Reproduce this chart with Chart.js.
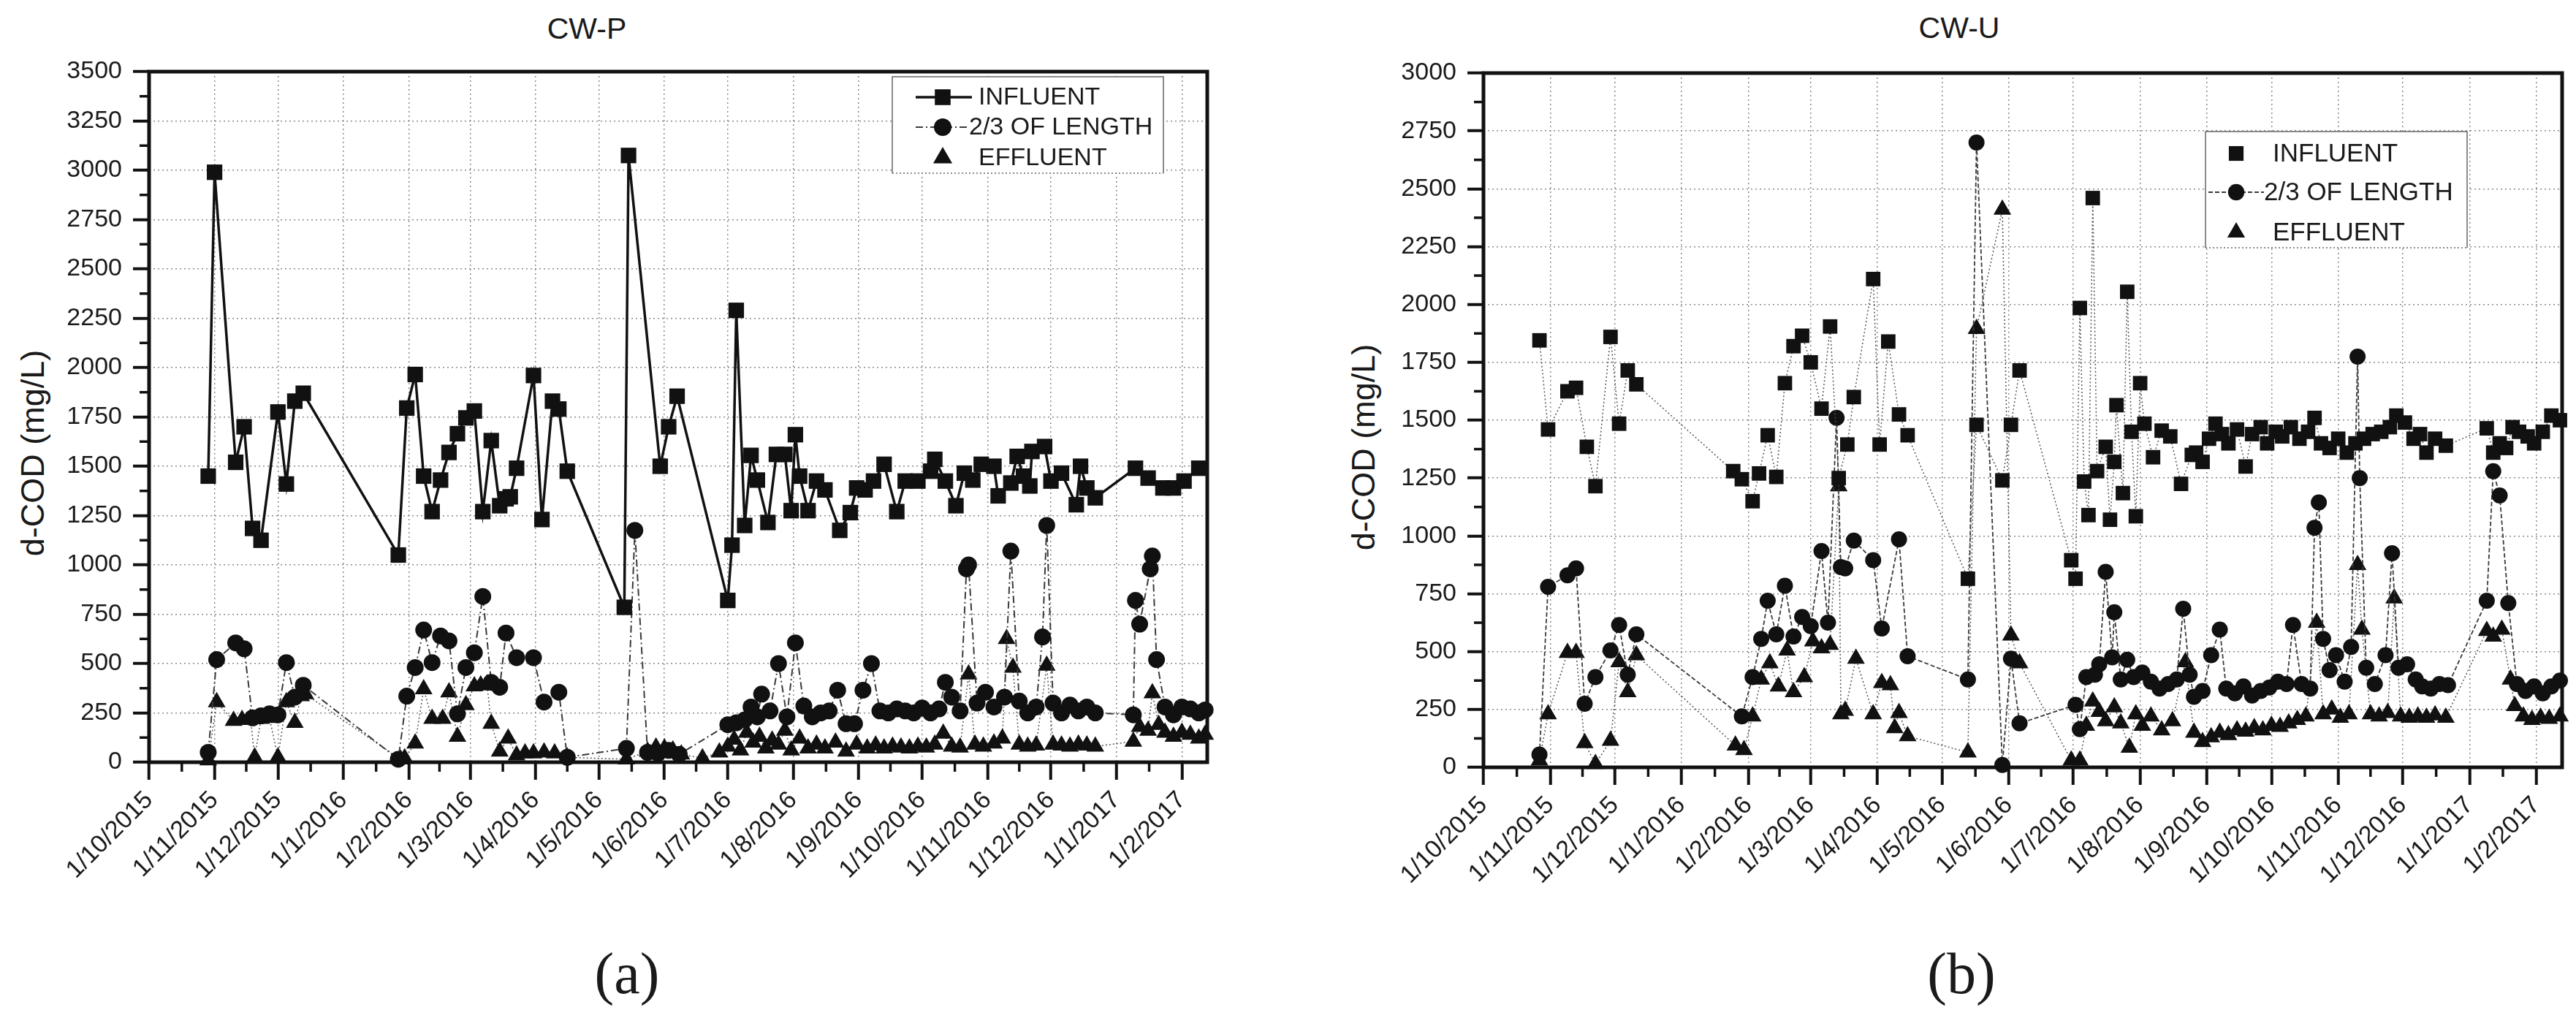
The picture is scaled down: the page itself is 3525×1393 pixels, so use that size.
<!DOCTYPE html>
<html>
<head>
<meta charset="utf-8">
<title>d-COD CW-P / CW-U</title>
<script src="https://cdn.jsdelivr.net/npm/chart.js@4.4.1/dist/chart.umd.min.js"></script>
<style>
body { margin: 0; background: #fff; width: 3525px; height: 1393px; overflow: hidden; position: relative; font-family: 'Liberation Sans', Arial, sans-serif; color: #1a1a1a; }
canvas { position: absolute; top: 0; }
#chartP { left: 0; }
#chartU { left: 1760px; }
.titulo { position: absolute; font-size: 41px; transform: translate(-50%, -50%); white-space: nowrap; }
.ejeY { position: absolute; font-size: 45px; transform: translate(-50%, -50%) rotate(-90deg); white-space: nowrap; }
.rotulo { position: absolute; font-family: 'Liberation Serif', serif; font-size: 80px; transform: translate(-50%, -50%); }
</style>
</head>
<body>
<div class="titulo" style="left:803px; top:39px;">CW-P</div>
<div class="titulo" style="left:2681px; top:38px;">CW-U</div>
<div class="ejeY" style="left:45px; top:620px;">d-COD (mg/L)</div>
<div class="ejeY" style="left:1866px; top:612px;">d-COD (mg/L)</div>
<div class="rotulo" style="left:858px; top:1332px;">(a)</div>
<div class="rotulo" style="left:2684px; top:1332px;">(b)</div>
<canvas id="chartP" width="1760" height="1393"></canvas>
<canvas id="chartU" width="1765" height="1393"></canvas>
<script>
// eje x: dias desde 1/10/2015
const fechaInicio = '1/10/2015';
const etiquetasMes = ['1/10/2015', '1/11/2015', '1/12/2015', '1/1/2016', '1/2/2016', '1/3/2016', '1/4/2016',
    '1/5/2016', '1/6/2016', '1/7/2016', '1/8/2016', '1/9/2016', '1/10/2016', '1/11/2016', '1/12/2016',
    '1/1/2017', '1/2/2017'];
const ticksYP = [0, 250, 500, 750, 1000, 1250, 1500, 1750, 2000, 2250, 2500, 2750, 3000, 3250, 3500];
const ticksYU = [0, 250, 500, 750, 1000, 1250, 1500, 1750, 2000, 2250, 2500, 2750, 3000];
const nombresSeries = ['INFLUENT', '2/3 OF LENGTH', 'EFFLUENT'];

// CW-P  [dia, mg/L]
const cwpInfluent = [[28,1450],[31,2990],[41,1520],[45,1700],[49,1185],[53,1125],[61,1775],[65,1410],[69,1830],[73,1870],
    [118,1050],[122,1795],[126,1965],[130,1450],[134,1270],[138,1430],[142,1570],[146,1665],[150,1745],[154,1780],
    [158,1270],[162,1630],[166,1300],[169,1335],[171,1345],[174,1490],[182,1960],[186,1230],[191,1830],[194,1790],
    [198,1475],[225,785],[227,3075],[242,1500],[246,1700],[250,1855],[274,820],[276,1100],[278,2290],[282,1200],
    [285,1555],[288,1430],[293,1215],[297,1560],[301,1560],[304,1275],[306,1660],[308,1450],[312,1275],[316,1425],
    [320,1380],[327,1175],[332,1265],[335,1390],[339,1380],[343,1425],[348,1510],[354,1270],[358,1425],[364,1425],
    [370,1475],[372,1535],[377,1425],[382,1300],[386,1465],[390,1430],[394,1510],[400,1500],[402,1350],[408,1415],
    [411,1550],[414,1450],[417,1400],[418,1575],[424,1600],[427,1425],[432,1465],[439,1305],[441,1500],[444,1390],
    [448,1340],[467,1490],[473,1440],[480,1390],[485,1390],[490,1425],[497,1490]];
const cwpMitad = [[28,50],[32,520],[41,605],[45,575],[49,225],[53,235],[57,245],[61,240],[65,505],[69,330],[73,390],
    [118,15],[122,335],[126,480],[130,670],[134,505],[138,640],[142,615],[146,245],[150,480],[154,555],[158,840],
    [162,405],[166,380],[169,655],[174,530],[182,530],[187,305],[194,355],[198,25],[226,70],[230,1175],[236,50],
    [241,45],[246,60],[251,40],[274,190],[278,200],[282,215],[285,280],[288,230],[290,345],[294,260],[298,500],
    [302,230],[306,605],[310,285],[314,230],[318,250],[322,260],[326,365],[330,195],[334,195],[338,365],[342,500],
    [346,260],[350,250],[354,270],[358,260],[362,250],[366,275],[370,250],[374,270],[377,405],[380,330],[384,260],
    [387,980],[388,1000],[392,300],[396,355],[400,280],[405,330],[408,1070],[412,310],[416,250],[420,280],[423,635],
    [425,1200],[428,300],[432,250],[436,290],[440,260],[444,280],[448,250],[466,240],[467,820],[469,700],[474,980],
    [475,1045],[477,520],[481,280],[485,240],[489,280],[493,270],[497,250],[500,265]];
const cwpEffluent = [[28,10],[32,305],[40,210],[44,215],[48,220],[50,25],[53,220],[57,225],[61,25],[65,305],[69,200],
    [72,335],[74,345],[119,15],[121,20],[126,95],[130,370],[134,220],[139,220],[142,355],[146,130],[150,290],[154,385],
    [157,390],[160,395],[162,195],[166,55],[170,120],[174,35],[178,45],[182,45],[187,50],[192,45],[198,25],[226,15],
    [236,55],[240,75],[244,70],[248,60],[252,40],[262,20],[270,50],[274,80],[277,115],[280,60],[283,150],[286,100],
    [289,130],[292,70],[295,110],[298,90],[301,160],[304,60],[308,120],[312,70],[316,90],[320,70],[325,100],[330,55],
    [335,90],[340,70],[344,85],[348,70],[352,80],[356,75],[360,70],[364,80],[368,75],[372,90],[376,145],[380,80],
    [384,75],[388,445],[391,90],[395,80],[400,95],[404,120],[406,625],[409,480],[412,90],[416,80],[420,85],[425,490],
    [428,90],[432,85],[436,80],[440,90],[444,85],[448,80],[466,105],[469,180],[473,160],[475,350],[478,190],[481,150],
    [485,130],[489,150],[493,140],[497,120],[500,140]];

// CW-U  [dia, mg/L]
const cwuInfluent = [[26,1845],[30,1460],[39,1625],[43,1640],[48,1385],[52,1215],[59,1860],[63,1485],[67,1715],[71,1655],
    [116,1280],[120,1245],[125,1150],[128,1270],[132,1435],[136,1255],[140,1660],[144,1820],[148,1865],[152,1750],
    [157,1550],[161,1905],[165,1250],[169,1395],[172,1600],[181,2110],[184,1395],[188,1840],[193,1525],[197,1435],
    [225,815],[229,1480],[241,1240],[245,1480],[249,1715],[273,895],[275,815],[277,1985],[279,1235],[281,1090],
    [283,2460],[285,1280],[289,1385],[291,1070],[293,1320],[294,1565],[297,1185],[299,2055],[301,1450],[303,1085],
    [305,1660],[307,1485],[311,1340],[315,1455],[319,1430],[324,1225],[329,1350],[331,1360],[334,1320],[337,1420],
    [340,1485],[343,1440],[346,1400],[350,1460],[354,1300],[357,1440],[361,1470],[364,1400],[368,1450],[371,1430],
    [375,1470],[379,1420],[383,1450],[386,1510],[389,1400],[393,1380],[397,1420],[401,1360],[405,1400],[409,1420],
    [413,1440],[417,1450],[421,1470],[424,1520],[428,1490],[432,1420],[435,1440],[438,1360],[442,1420],[447,1390],
    [466,1465],[469,1360],[472,1400],[475,1380],[478,1470],[481,1450],[485,1430],[488,1400],[492,1450],[496,1520],
    [500,1500]];
const cwuMitad = [[26,55],[30,780],[39,830],[43,860],[47,275],[52,390],[59,505],[63,615],[67,400],[71,575],[120,220],
    [125,390],[129,555],[132,720],[136,575],[140,785],[144,565],[148,650],[152,610],[157,935],[160,625],[164,1510],
    [166,865],[168,860],[172,980],[181,895],[185,600],[193,985],[197,480],[225,380],[229,2700],[241,10],[245,470],
    [249,190],[275,270],[277,165],[280,390],[284,400],[286,445],[289,845],[292,475],[293,670],[296,380],[299,465],
    [302,390],[306,410],[310,370],[314,340],[318,360],[322,380],[325,685],[328,400],[330,305],[334,330],[338,485],
    [342,595],[345,340],[349,320],[353,350],[357,310],[361,330],[365,345],[369,370],[373,360],[376,615],[380,360],
    [384,340],[386,1035],[388,1145],[390,555],[393,420],[396,485],[400,370],[403,520],[406,1775],[407,1250],[410,430],
    [414,360],[419,485],[422,925],[425,430],[429,445],[433,380],[436,350],[440,340],[444,360],[448,355],[466,720],
    [469,1280],[472,1175],[476,710],[480,360],[484,330],[488,350],[492,320],[496,350],[500,375]];
const cwuEffluent = [[26,30],[30,230],[39,495],[43,495],[47,105],[52,15],[59,115],[63,455],[67,325],[71,485],[117,95],
    [121,75],[125,220],[129,380],[133,450],[137,350],[141,505],[144,325],[149,390],[153,545],[157,515],[161,530],
    [165,1215],[166,230],[168,245],[173,470],[181,230],[185,365],[189,355],[191,170],[193,235],[197,135],[225,65],
    [229,1895],[241,2410],[245,570],[249,450],[273,30],[277,30],[280,180],[283,285],[286,240],[289,200],[293,260],
    [296,190],[300,85],[303,230],[306,180],[310,220],[315,160],[320,200],[326,455],[330,150],[334,110],[338,130],
    [342,150],[346,140],[350,160],[354,155],[358,170],[362,160],[366,180],[370,175],[374,190],[378,205],[382,220],
    [387,625],[390,230],[394,250],[398,215],[402,230],[406,875],[408,595],[412,230],[416,220],[420,235],[423,730],
    [426,220],[430,215],[434,220],[438,215],[442,225],[447,215],[466,590],[469,565],[473,595],[477,380],[479,265],
    [483,220],[487,205],[491,215],[495,210],[500,220]];

function diaDe(etiqueta) {
    const [d, m, a] = etiqueta.split('/').map(Number);
    const [d0, m0, a0] = fechaInicio.split('/').map(Number);
    return Math.round((Date.UTC(a, m - 1, d) - Date.UTC(a0, m0 - 1, d0)) / 86400000);
}

const diasMes = etiquetasMes.map(diaDe);
const fuente = "'Liberation Sans', Arial, sans-serif";

function aPuntos(serie) {
    return serie.map(p => ({ x: p[0], y: p[1] }));
}

// marco negro y marcas menores
const marcoPlugin = {
    id: 'marco',
    afterDraw(chart) {
        const { ctx, chartArea: a, scales } = chart;
        ctx.save();
        ctx.strokeStyle = '#111';
        ctx.lineWidth = 5;
        ctx.strokeRect(a.left, a.top, a.right - a.left, a.bottom - a.top);
        ctx.lineWidth = 3.5;
        const xt = scales.x.ticks.map(t => t.value);
        for (let i = 0; i < xt.length - 1; i++) {
            const px = scales.x.getPixelForValue((xt[i] + xt[i + 1]) / 2);
            ctx.beginPath();
            ctx.moveTo(px, a.bottom);
            ctx.lineTo(px, a.bottom + 13);
            ctx.stroke();
        }
        const yt = scales.y.ticks.map(t => t.value);
        for (let i = 0; i < yt.length - 1; i++) {
            const py = scales.y.getPixelForValue((yt[i] + yt[i + 1]) / 2);
            ctx.beginPath();
            ctx.moveTo(a.left, py);
            ctx.lineTo(a.left - 13, py);
            ctx.stroke();
        }
        ctx.restore();
    }
};

function dibujarMarca(ctx, estilo, x, y, r) {
    ctx.beginPath();
    if (estilo === 'rect') {
        ctx.rect(x - r * 0.72, y - r * 0.72, r * 1.44, r * 1.44);
    } else if (estilo === 'circle') {
        ctx.arc(x, y, r * 0.8, 0, Math.PI * 2);
    } else {
        ctx.moveTo(x, y - r);
        ctx.lineTo(x + r * 0.87, y + r * 0.5);
        ctx.lineTo(x - r * 0.87, y + r * 0.5);
        ctx.closePath();
    }
    ctx.fill();
}

function crearLeyenda(caja) {
    return {
        id: 'leyendaCaja',
        afterDraw(chart) {
            const ctx = chart.ctx;
            ctx.save();
            ctx.fillStyle = '#fff';
            ctx.fillRect(caja.left, caja.top, caja.right - caja.left, caja.bottom - caja.top);
            ctx.strokeStyle = '#666';
            ctx.lineWidth = 1.5;
            ctx.beginPath();
            ctx.moveTo(caja.left, caja.bottom);
            ctx.lineTo(caja.left, caja.top);
            ctx.lineTo(caja.right, caja.top);
            ctx.lineTo(caja.right, caja.bottom);
            ctx.stroke();
            ctx.setLineDash([2, 3]);
            ctx.beginPath();
            ctx.moveTo(caja.left, caja.bottom);
            ctx.lineTo(caja.right, caja.bottom);
            ctx.stroke();

            chart.data.datasets.forEach((ds, i) => {
                const fila = caja.filas[i];
                if (fila.linea) {
                    ctx.setLineDash(ds.borderDash || []);
                    ctx.strokeStyle = ds.borderColor;
                    ctx.lineWidth = ds.borderWidth;
                    ctx.beginPath();
                    ctx.moveTo(fila.linea[0], fila.y);
                    ctx.lineTo(fila.linea[1], fila.y);
                    ctx.stroke();
                }
                ctx.setLineDash([]);
                ctx.fillStyle = '#111';
                dibujarMarca(ctx, ds.pointStyle, caja.marcaX, fila.y, caja.tam);
                ctx.fillStyle = '#1a1a1a';
                ctx.font = caja.letra + 'px ' + fuente;
                ctx.textBaseline = 'middle';
                ctx.textAlign = 'left';
                ctx.fillText(ds.label, fila.textoX, fila.y + 1);
            });
            ctx.restore();
        }
    };
}

function crearGrafico(idCanvas, series, estilos, ticksY, maxY, relleno, caja) {
    const ctx = document.getElementById(idCanvas).getContext('2d');
    return new Chart(ctx, {
        type: 'scatter',
        data: {
            datasets: series.map((s, i) => Object.assign({
                label: nombresSeries[i],
                data: aPuntos(s),
                showLine: true,
                backgroundColor: '#111',
                pointBorderColor: '#111',
                pointBorderWidth: 0,
                clip: false
            }, estilos[i]))
        },
        options: {
            responsive: false,
            animation: false,
            layout: { padding: relleno },
            plugins: {
                legend: { display: false },
                tooltip: { enabled: false }
            },
            scales: {
                x: {
                    type: 'linear',
                    min: 0,
                    max: 501,
                    afterBuildTicks: scale => { scale.ticks = diasMes.map(v => ({ value: v })); },
                    afterFit: scale => { scale.height = 200; },
                    ticks: {
                        autoSkip: false,
                        minRotation: 45,
                        maxRotation: 45,
                        padding: 8,
                        color: '#1a1a1a',
                        font: { family: fuente, size: 34 },
                        callback: (value, index) => etiquetasMes[index]
                    },
                    grid: {
                        color: '#8a8a8a',
                        lineWidth: 1.5,
                        tickLength: 24,
                        tickWidth: 4,
                        tickColor: '#111',
                        tickBorderDash: []
                    },
                    border: { display: false, dash: [2, 4] }
                },
                y: {
                    min: 0,
                    max: maxY,
                    afterBuildTicks: scale => { scale.ticks = ticksY.map(v => ({ value: v })); },
                    afterFit: scale => { scale.width = relleno.ejeY; },
                    ticks: {
                        padding: 15,
                        color: '#1a1a1a',
                        font: { family: fuente, size: 34 },
                        callback: value => String(value)
                    },
                    grid: {
                        color: '#8a8a8a',
                        lineWidth: 1.5,
                        tickLength: 22,
                        tickWidth: 4,
                        tickColor: '#111',
                        tickBorderDash: []
                    },
                    border: { display: false, dash: [2, 4] }
                }
            }
        },
        plugins: [marcoPlugin, crearLeyenda(caja)]
    });
}

const estilosP = [
    { pointStyle: 'rect', pointRadius: 15, borderColor: '#111', borderWidth: 3.5, borderDash: [] },
    { pointStyle: 'circle', pointRadius: 11.5, borderColor: '#3a3a3a', borderWidth: 2, borderDash: [10, 4, 2, 4] },
    { pointStyle: 'triangle', pointRadius: 14, borderColor: '#555', borderWidth: 1.5, borderDash: [2, 3] }
];
const estilosU = [
    { pointStyle: 'rect', pointRadius: 14, borderColor: '#555', borderWidth: 1.5, borderDash: [2, 3] },
    { pointStyle: 'circle', pointRadius: 11, borderColor: '#3a3a3a', borderWidth: 1.8, borderDash: [6, 3] },
    { pointStyle: 'triangle', pointRadius: 14, borderColor: '#555', borderWidth: 1.5, borderDash: [2, 3] }
];

crearGrafico('chartP', [cwpInfluent, cwpMitad, cwpEffluent], estilosP, ticksYP, 3500,
    { left: 0, top: 98, right: 108, bottom: 150, ejeY: 204 },
    { left: 1221, right: 1592, top: 105, bottom: 237, marcaX: 1290, tam: 15, letra: 34,
      filas: [{ y: 133, textoX: 1339, linea: [1253, 1330] },
              { y: 174, textoX: 1326, linea: [1253, 1326] },
              { y: 216, textoX: 1339, linea: null }] });

crearGrafico('chartU', [cwuInfluent, cwuMitad, cwuEffluent], estilosU, ticksYU, 3000,
    { left: 0, top: 100, right: 19, bottom: 143, ejeY: 270 },
    { left: 1258, right: 1616, top: 180, bottom: 339, marcaX: 1300, tam: 14, letra: 35,
      filas: [{ y: 210, textoX: 1350, linea: null },
              { y: 263, textoX: 1338, linea: [1262, 1338] },
              { y: 318, textoX: 1350, linea: null }] });
</script>
</body>
</html>
